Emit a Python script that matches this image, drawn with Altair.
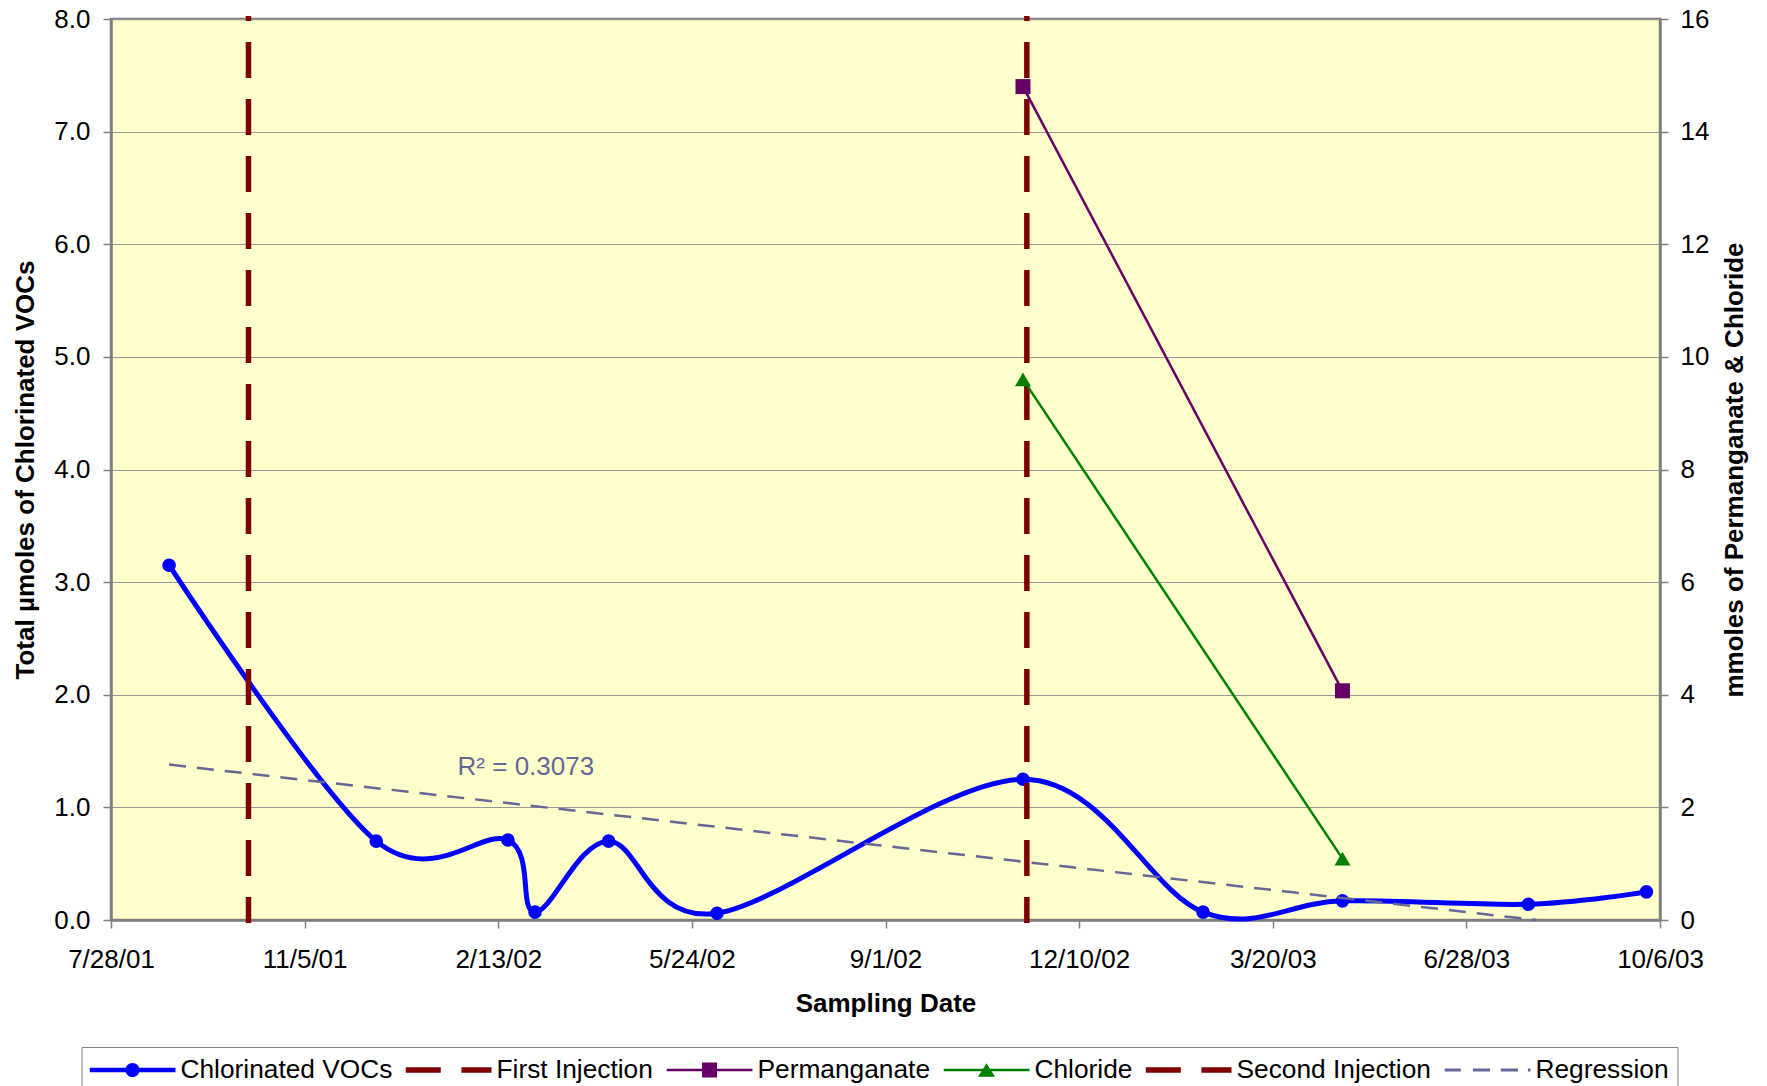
import altair as alt
import pandas as pd

# ---------------- data ----------------
VOC_DATES = ["2001-08-27", "2001-12-12", "2002-02-18", "2002-03-04", "2002-04-11",
             "2002-06-06", "2002-11-11", "2003-02-12", "2003-04-25", "2003-07-30",
             "2003-09-29"]
VOC_VALUES = [3.15, 0.70, 0.71, 0.07, 0.70, 0.06, 1.25, 0.07, 0.17, 0.14, 0.25]

PERM_DATES = ["2002-11-11", "2003-04-25"]
PERM_VALUES = [14.8, 4.07]

CHL_DATES = ["2002-11-11", "2003-04-25"]
CHL_VALUES = [9.6, 1.09]

INJ_NAMES = ["First Injection", "Second Injection"]
INJ_DATES = ["2001-10-07", "2002-11-13"]

REG_DATES = ["2001-08-27", "2003-08-03"]
REG_VALUES = [1.38, 0.0]

R2_LABEL = ["R² = 0.3073"]
R2_DATE = ["2002-01-23"]
R2_VALUE = [1.29]

TICK_DATES = ["2001-07-28", "2001-11-05", "2002-02-13", "2002-05-24", "2002-09-01",
              "2002-12-10", "2003-03-20", "2003-06-28", "2003-10-06"]
LEFT_TICKS = [0, 1, 2, 3, 4, 5, 6, 7, 8]
RIGHT_TICKS = [0, 2, 4, 6, 8, 10, 12, 14, 16]

SERIES = ["Chlorinated VOCs", "First Injection", "Permanganate", "Chloride",
          "Second Injection", "Regression"]
SERIES_COLORS = ["#0000FF", "#800000", "#660066", "#008000", "#800000", "#666699"]

# legend symbol shapes (unit square [-1,1])
P_VOC = ("M-1,-0.055L1,-0.055L1,0.055L-1,0.055Z "
         "M-0.165,0A0.165,0.165,0,1,1,0.165,0A0.165,0.165,0,1,1,-0.165,0Z")
P_INJ = ("M-1,-0.064L-0.18,-0.064L-0.18,0.064L-1,0.064Z "
         "M0.3,-0.064L1,-0.064L1,0.064L0.3,0.064Z")
P_PERM = ("M-1,-0.028L1,-0.028L1,0.028L-1,0.028Z "
          "M-0.174,-0.174L0.174,-0.174L0.174,0.174L-0.174,0.174Z")
P_CHL = ("M-1,-0.028L1,-0.028L1,0.028L-1,0.028Z "
         "M0,-0.155L0.198,0.155L-0.198,0.155Z")
P_REG = ("M-1,-0.035L-0.62,-0.035L-0.62,0.035L-1,0.035Z "
         "M-0.34,-0.035L0.06,-0.035L0.06,0.035L-0.34,0.035Z "
         "M0.31,-0.035L0.71,-0.035L0.71,0.035L0.31,0.035Z "
         "M0.94,-0.035L1,-0.035L1,0.035L0.94,0.035Z")
LEGEND_PATHS = [P_VOC, P_INJ, P_PERM, P_CHL, P_INJ, P_REG]


def to_ms(s):
    return int(pd.Timestamp(s, tz="UTC").value // 1_000_000)


FONT = "Liberation Sans"
GRAY = "#808080"

x_scale = alt.Scale(type="utc", domain=[to_ms(TICK_DATES[0]), to_ms(TICK_DATES[-1])], nice=False)
x_axis = alt.Axis(
    values=[to_ms(d) for d in TICK_DATES],
    labelExpr="utcFormat(datum.value, '%-m/%-d/%y')",
    title="Sampling Date", grid=False,
    tickSize=8, tickColor=GRAY, tickWidth=1.5,
    domainColor=GRAY, domainWidth=2.5,
    labelFont=FONT, labelFontSize=26, labelColor="black", labelPadding=18,
    labelFlush=False, labelOverlap=False,
    titleFont=FONT, titleFontSize=26, titleFontWeight="bold", titleColor="black",
    titleX=774.5, titleY=83, titleAlign="center", titleBaseline="middle",
)
X = alt.X("date:T", scale=x_scale, axis=x_axis)

left_axis = alt.Axis(
    values=LEFT_TICKS, format=".1f", orient="left",
    grid=True, gridColor="#999999", gridWidth=1,
    tickSize=8, tickColor=GRAY, tickWidth=1.5,
    domainColor=GRAY, domainWidth=2.5,
    labelFont=FONT, labelFontSize=26, labelColor="black", labelPadding=13,
    title="Total µmoles of Chlorinated VOCs",
    titleFont=FONT, titleFontSize=26, titleFontWeight="bold", titleColor="black",
    titleX=-85.5, titleY=450.5, titleAngle=270, titleAlign="center", titleBaseline="middle",
)
Y_LEFT = alt.Y("v:Q", scale=alt.Scale(domain=[0, 8], nice=False), axis=left_axis)

right_axis = alt.Axis(
    values=RIGHT_TICKS, format="d", orient="right",
    grid=False,
    tickSize=8, tickColor=GRAY, tickWidth=1.5,
    domainColor=GRAY, domainWidth=2.5,
    labelFont=FONT, labelFontSize=26, labelColor="black", labelPadding=12,
    title="mmoles of Permanganate & Chloride",
    titleFont=FONT, titleFontSize=26, titleFontWeight="bold", titleColor="black",
    titleX=74, titleY=450.5, titleAngle=270, titleAlign="center", titleBaseline="middle",
)
Y_RIGHT = alt.Y("v:Q", scale=alt.Scale(domain=[0, 16], nice=False), axis=right_axis)

LEG = alt.Legend(
    title=None, orient="none", legendX=-29.5, legendY=1028,
    direction="horizontal", columns=6,
    symbolSize=7396, symbolStrokeWidth=0, symbolOffset=0,
    labelOffset=5, columnPadding=13, padding=8, clipHeight=30,
    labelFont=FONT, labelFontSize=26.3, labelColor="black", labelLimit=400,
    strokeColor=GRAY, fillColor="white",
)

voc_df = pd.DataFrame({"date": VOC_DATES, "v": VOC_VALUES})
perm_df = pd.DataFrame({"date": PERM_DATES, "v": PERM_VALUES})
chl_df = pd.DataFrame({"date": CHL_DATES, "v": CHL_VALUES})
inj_df = pd.DataFrame({"date": INJ_DATES, "name": INJ_NAMES})
reg_df = pd.DataFrame({"date": REG_DATES, "v": REG_VALUES})
r2_df = pd.DataFrame({"date": R2_DATE, "v": R2_VALUE, "label": R2_LABEL})
leg_df = pd.DataFrame({"date": ["1990-01-01"] * len(SERIES), "v": [0] * len(SERIES),
                       "series": SERIES})

voc_line = alt.Chart(voc_df).mark_line(
    interpolate="cardinal", tension=0, color="#0000FF", strokeWidth=5
).encode(x=X, y=Y_LEFT)
voc_pts = alt.Chart(voc_df).mark_circle(size=185, color="#0000FF", opacity=1).encode(x=X, y=Y_LEFT)

inj = alt.Chart(inj_df).mark_rule(
    color="#800000", strokeWidth=5.5, strokeDash=[36, 21], strokeDashOffset=31
).encode(x=X, y=alt.value(-3), y2=alt.value(904))

reg = alt.Chart(reg_df).mark_line(
    color="#666699", strokeWidth=2.5, strokeDash=[17, 11]
).encode(x=X, y=Y_LEFT)

r2 = alt.Chart(r2_df).mark_text(
    align="left", baseline="alphabetic", font=FONT, fontSize=26, color="#666699"
).encode(x=X, y=Y_LEFT, text="label:N")

legend_layer = alt.Chart(leg_df).mark_point(filled=True, opacity=1, clip=True).encode(
    x=X, y=Y_LEFT,
    fill=alt.Fill("series:N", scale=alt.Scale(domain=SERIES, range=SERIES_COLORS), legend=LEG),
    shape=alt.Shape("series:N", scale=alt.Scale(domain=SERIES, range=LEGEND_PATHS), legend=LEG),
)

left = alt.layer(voc_line, voc_pts, inj, reg, r2, legend_layer)

perm_line = alt.Chart(perm_df).mark_line(color="#660066", strokeWidth=2.5).encode(x=X, y=Y_RIGHT)
perm_pts = alt.Chart(perm_df).mark_point(
    shape="square", filled=True, size=225, color="#660066", opacity=1
).encode(x=X, y=Y_RIGHT)
chl_line = alt.Chart(chl_df).mark_line(color="#008000", strokeWidth=2.5).encode(x=X, y=Y_RIGHT)
chl_pts = alt.Chart(chl_df).mark_point(
    shape="triangle-up", filled=True, size=256, color="#008000", opacity=1
).encode(x=X, y=Y_RIGHT)

right = alt.layer(perm_line, chl_line, perm_pts, chl_pts)

chart = alt.layer(left, right).resolve_scale(y="independent").properties(
    width=1549, height=901,
    autosize=alt.AutoSizeParams(type="none"),
    padding={"left": 103, "top": 11, "right": 90, "bottom": 166},
    background="white",
).configure_view(fill="#FFFFCC", stroke=GRAY, strokeWidth=2.5)

chart.save("out.html", embed_options={"renderer": "svg", "actions": False})
